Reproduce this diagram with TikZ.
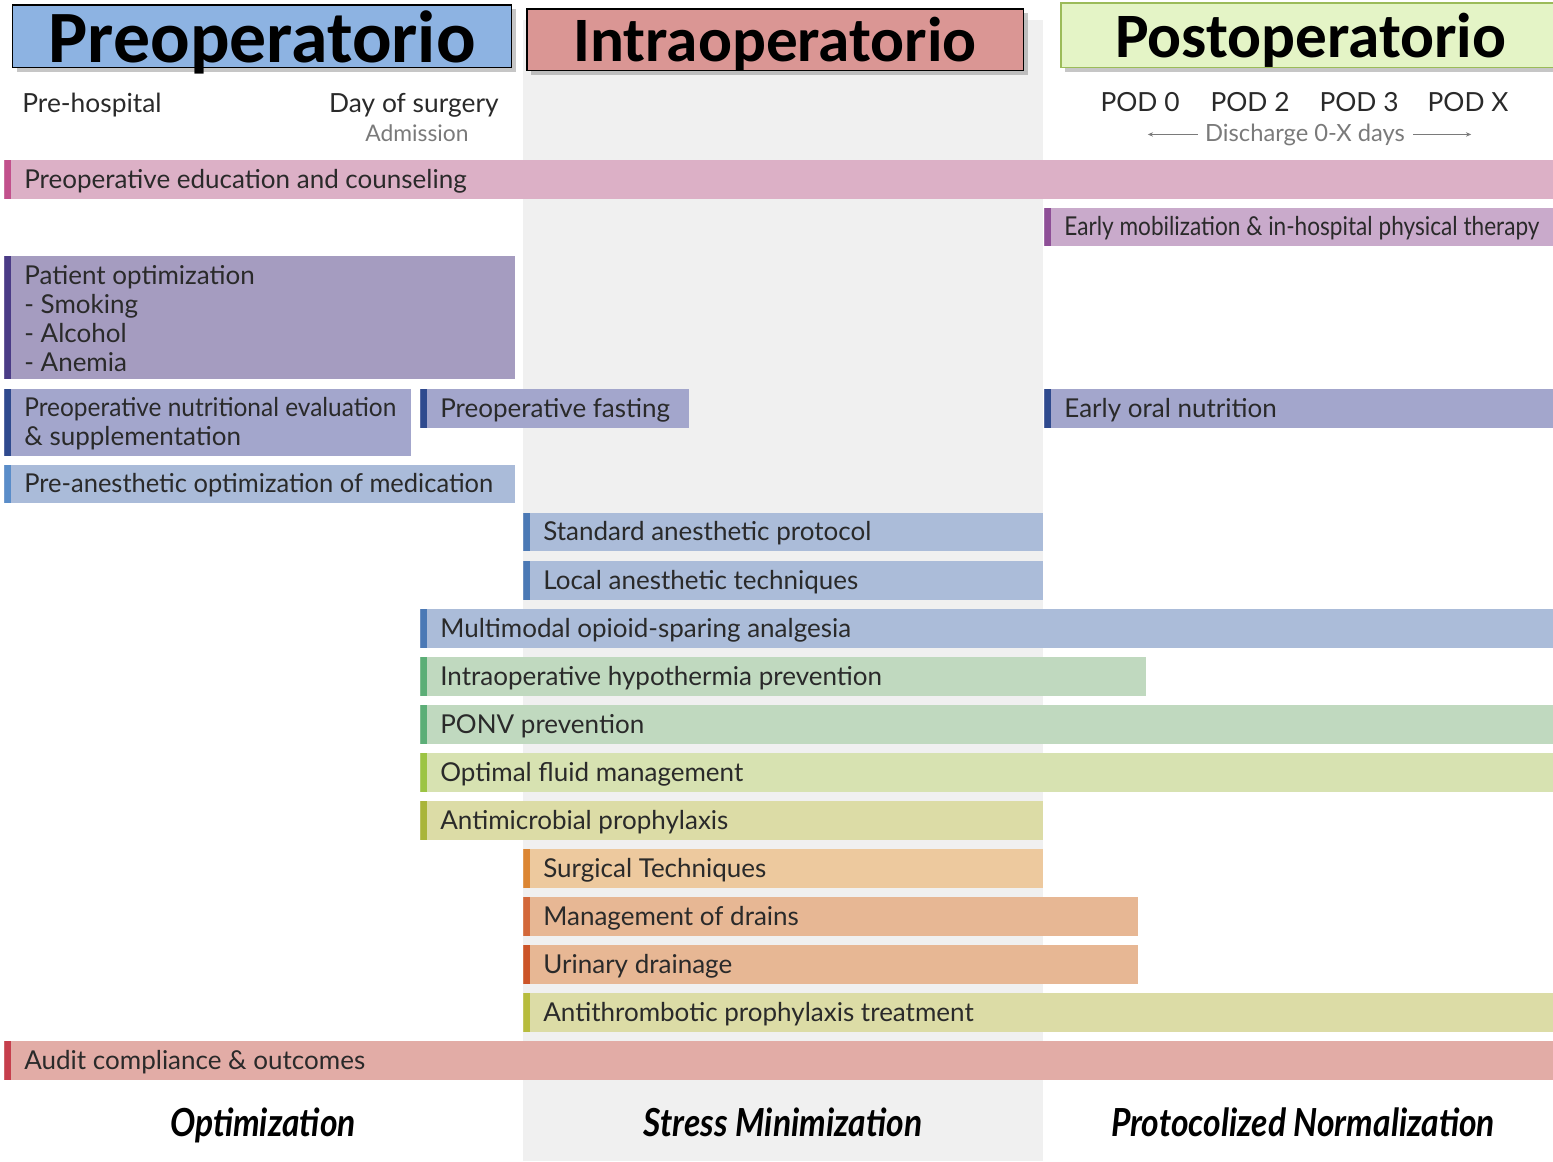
\documentclass[tikz,border=0pt]{standalone}
\usepackage{fontspec}
\setmainfont{Lato}
\newfontfamily\headfont{Carlito}
\usetikzlibrary{shadows,arrows.meta}

\definecolor{colbg}{HTML}{F0F0F0}
\definecolor{txt}{HTML}{2A2A2A}
\definecolor{subtxt}{HTML}{7A7A7A}
\definecolor{preF}{HTML}{8DB3E2}
\definecolor{intraF}{HTML}{DA9694}
\definecolor{postF}{HTML}{E4F4C6}
\definecolor{postD}{HTML}{9BBB59}
\definecolor{educF}{HTML}{DCB0C6}
\definecolor{educA}{HTML}{C2508C}
\definecolor{mobF}{HTML}{C9AACB}
\definecolor{mobA}{HTML}{8E4F97}
\definecolor{patF}{HTML}{A59CC0}
\definecolor{patA}{HTML}{4A3B86}
\definecolor{nutF}{HTML}{A3A6CC}
\definecolor{nutA}{HTML}{2F4A8E}
\definecolor{medF}{HTML}{AABBD9}
\definecolor{medA}{HTML}{5A8DC9}
\definecolor{anesF}{HTML}{ABBCD9}
\definecolor{anesA}{HTML}{4B79B5}
\definecolor{greenF}{HTML}{C0D9BF}
\definecolor{greenA}{HTML}{5CAE77}
\definecolor{fluidF}{HTML}{D7E2B1}
\definecolor{fluidA}{HTML}{9CC444}
\definecolor{antiF}{HTML}{DCDCA6}
\definecolor{antiA}{HTML}{A9B53A}
\definecolor{surgF}{HTML}{EDC99E}
\definecolor{surgA}{HTML}{DC8633}
\definecolor{drainF}{HTML}{E7B794}
\definecolor{drainA}{HTML}{D3683A}
\definecolor{urinA}{HTML}{CC5428}
\definecolor{thrombA}{HTML}{B7BC3D}
\definecolor{auditF}{HTML}{E2ACA6}
\definecolor{auditA}{HTML}{C63F4D}

\tikzset{
  phase/.style={draw=black, line width=0.03cm, anchor=north west, inner sep=0pt,
    text depth=0pt, font=\headfont\bfseries, drop shadow={opacity=0.45}},
  bartext/.style={anchor=west, inner sep=0pt, align=left, text=txt,
    font=\fontsize{14.8}{16.5}\selectfont},
  subhead/.style={inner sep=0pt, text=txt, font=\fontsize{15}{17}\selectfont},
  stage/.style={inner sep=0pt, anchor=base, text=black, font=\fontsize{22}{24}\selectfont\bfseries\itshape},
  dayarrow/.style={draw=subtxt, line width=0.4pt, -{Stealth[length=3pt,width=2.5pt]}}
}

\begin{document}
\begin{tikzpicture}[x=0.02cm,y=-0.02cm]
\useasboundingbox (0,0) rectangle (1553,1161);
\fill[colbg] (523,20) rectangle (1043,1161);

% phase headers
\node[phase, fill=preF, minimum width=9.98cm, minimum height=1.26cm, font=\headfont\bfseries\fontsize{42}{44}\selectfont]
  (pre) at (12,4) {Preoperatorio};
\node[phase, fill=intraF, minimum width=9.94cm, minimum height=1.24cm, font=\headfont\bfseries\fontsize{36}{40}\selectfont]
  (intra) at (526,8) {Intraoperatorio};
\node[phase, fill=postF, draw=postD, minimum width=10cm, minimum height=1.3cm, font=\headfont\bfseries\fontsize{36}{40}\selectfont]
  (post) at (1060,2) {Postoperatorio};

% time line
\node[subhead, anchor=base west] (prehosp) at (22,112) {Pre-hospital};
\node[subhead, anchor=base east] (dos) at (499,112) {Day of surgery};
\node[subhead, anchor=base, text=subtxt, font=\fontsize{13}{15}\selectfont] (adm) at (417,141) {Admission};
\foreach \nm/\x/\lab in {pod0/1140/POD 0, pod2/1250/POD 2, pod3/1359/POD 3, podx/1468/POD X}
  \node[subhead, anchor=base] (\nm) at (\x,111) {\lab};
\node[subhead, anchor=base, text=subtxt, font=\fontsize{13.5}{15}\selectfont] (dis) at (1305,141) {Discharge 0-X days};
\coordinate (disl) at ([xshift=-1.14cm]dis.west);
\coordinate (disr) at ([xshift=1.32cm]dis.east);
\draw[dayarrow] ([xshift=-0.14cm]dis.west) -- (disl);
\draw[dayarrow] ([xshift=0.16cm]dis.east) -- (disr);

% elements
\foreach \nm/\x/\y/\w/\h/\fc/\ac/\txt in {
  educ/4/160/1549/39/educF/educA/Preoperative education and counseling,
  mobil/1044/208/509/38/mobF/mobA/\scalebox{0.87}[1]{Early mobilization \& in-hospital physical therapy},
  patopt/4/256/511/123/patF/patA/{Patient optimization\\- Smoking\\- Alcohol\\- Anemia},
  nutri/4/389/407/67/nutF/nutA/{\scalebox{0.94}[1]{Preoperative nutritional evaluation}\\\& supplementation},
  fast/420/389/269/39/nutF/nutA/Preoperative fasting,
  oral/1044/389/509/39/nutF/nutA/Early oral nutrition,
  preanes/4/465/511/38/medF/medA/\scalebox{0.98}[1]{Pre-anesthetic optimization of medication},
  stdanes/523/513/520/38/anesF/anesA/Standard anesthetic protocol,
  localanes/523/561/520/39/anesF/anesA/Local anesthetic techniques,
  multimod/420/609/1133/39/anesF/anesA/Multimodal opioid-sparing analgesia,
  hypo/420/657/726/39/greenF/greenA/Intraoperative hypothermia prevention,
  ponv/420/705/1133/39/greenF/greenA/PONV prevention,
  fluid/420/753/1133/39/fluidF/fluidA/Optimal fluid management,
  antimic/420/801/623/39/antiF/antiA/Antimicrobial prophylaxis,
  surg/523/849/520/39/surgF/surgA/Surgical Techniques,
  drains/523/897/615/39/drainF/drainA/Management of drains,
  urin/523/945/615/39/drainF/urinA/Urinary drainage,
  thromb/523/993/1030/39/antiF/thrombA/Antithrombotic prophylaxis treatment,
  audit/4/1041/1549/39/auditF/auditA/Audit compliance \& outcomes}
{
  \pgfmathsetmacro\bw{\w*0.02}
  \pgfmathsetmacro\bh{\h*0.02}
  \node[fill=\fc, anchor=north west, inner sep=0pt, minimum width=\bw cm, minimum height=\bh cm,
    path picture={\fill[\ac] (path picture bounding box.north west) rectangle ([xshift=0.14cm]path picture bounding box.south west);}]
    (\nm) at (\x,\y) {};
  \node[bartext] (\nm-t) at ([xshift=0.4cm,yshift=-0.02cm]\nm.west) {\txt};
}

% stages
\node[stage] (optim) at (263,1136) {\scalebox{0.87}[1]{Optimization}};
\node[stage] (stress) at (783,1136) {\scalebox{0.87}[1]{Stress Minimization}};
\node[stage] (norm) at (1303,1136) {\scalebox{0.87}[1]{Protocolized Normalization}};
\end{tikzpicture}
\end{document}
